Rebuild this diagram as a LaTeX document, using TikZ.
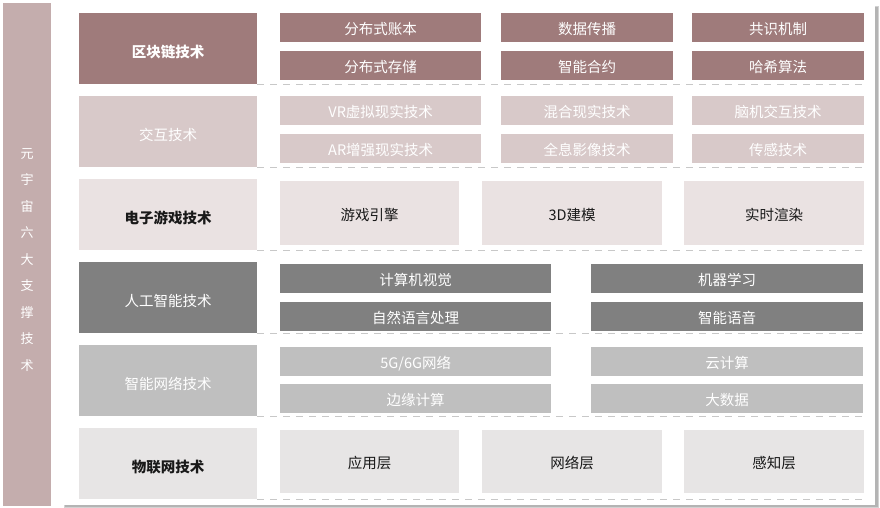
\documentclass[tikz,border=0pt]{standalone}
\usepackage{fontspec}
\setmainfont{Noto Sans CJK SC}
\usepackage{tikz}

\definecolor{sidec}{RGB}{196,173,173}
\definecolor{chainc}{RGB}{159,123,123}
\definecolor{interc}{RGB}{216,201,201}
\definecolor{gamec}{RGB}{234,226,226}
\definecolor{aic}{RGB}{128,128,128}
\definecolor{netc}{RGB}{191,191,191}
\definecolor{iotc}{RGB}{231,229,229}
\definecolor{dashc}{RGB}{200,200,200}
\definecolor{shadec}{RGB}{180,180,180}

\begin{document}
\begin{tikzpicture}[x=1pt,y=1pt,yscale=-1,xscale=1,
  cell/.style={anchor=north west,inner sep=0pt,text=white,text height=14pt,text depth=0pt,font=\fontsize{14.5}{17}\selectfont},
  head/.style={cell,minimum width=178,minimum height=71,text height=17pt},
  wideS/.style={cell,minimum width=201,minimum height=29},
  narS/.style={cell,minimum width=172,minimum height=29},
  bigS/.style={cell,minimum width=180,minimum height=64,text=black!90},
  halfS/.style={cell,minimum width=272,minimum height=29},
  sepline/.style={dashc,line width=1.5,dash pattern=on 7pt off 6pt}]
\useasboundingbox (0,0) rectangle (880,508);

%Shape: card with shadow
\fill[shadec!60] (64,6) rectangle (879,508);
\fill[shadec] (65,7) rectangle (878,507);
\fill[white] (62,0) rectangle (875,505);

%Shape: side bar
\node[cell,fill=sidec,minimum width=48,minimum height=503] (side) at (3,3) {};
% Text Node
\node[align=center,text=white,font=\fontsize{13}{26.5}\selectfont] (sidetext) at (27,260) {元\\宇\\宙\\六\\大\\支\\撑\\技\\术};

%Row: blockchain
\node[head,fill=chainc,font=\fontsize{14.5}{17}\selectfont\bfseries] (hchain) at (79,13) {区块链技术};
\node[wideS,fill=chainc] (chain1) at (280,13) {分布式账本};
\node[narS,fill=chainc] (chain2) at (501,13) {数据传播};
\node[narS,fill=chainc] (chain3) at (692,13) {共识机制};
\node[wideS,fill=chainc] (chain4) at (280,51) {分布式存储};
\node[narS,fill=chainc] (chain5) at (501,51) {智能合约};
\node[narS,fill=chainc] (chain6) at (692,51) {哈希算法};

%Row: interaction
\node[head,fill=interc] (hinter) at (79,96) {交互技术};
\node[wideS,fill=interc] (inter1) at (280,96) {VR虚拟现实技术};
\node[narS,fill=interc] (inter2) at (501,96) {混合现实技术};
\node[narS,fill=interc] (inter3) at (692,96) {脑机交互技术};
\node[wideS,fill=interc] (inter4) at (280,134) {AR增强现实技术};
\node[narS,fill=interc] (inter5) at (501,134) {全息影像技术};
\node[narS,fill=interc] (inter6) at (692,134) {传感技术};

%Row: games
\node[head,fill=gamec,text=black!90,font=\fontsize{14.5}{17}\selectfont\bfseries] (hgame) at (79,179) {电子游戏技术};
\node[bigS,fill=gamec,minimum width=179] (game1) at (280,181) {游戏引擎};
\node[bigS,fill=gamec] (game2) at (482,181) {3D建模};
\node[bigS,fill=gamec] (game3) at (684,181) {实时渲染};

%Row: artificial intelligence
\node[head,fill=aic] (hai) at (79,262) {人工智能技术};
\node[halfS,fill=aic,minimum width=271] (ai1) at (280,264) {计算机视觉};
\node[halfS,fill=aic] (ai2) at (591,264) {机器学习};
\node[halfS,fill=aic,minimum width=271] (ai3) at (280,302) {自然语言处理};
\node[halfS,fill=aic] (ai4) at (591,302) {智能语音};

%Row: networks
\node[head,fill=netc] (hnet) at (79,345) {智能网络技术};
\node[halfS,fill=netc,minimum width=271] (net1) at (280,347) {5G/6G网络};
\node[halfS,fill=netc] (net2) at (591,347) {云计算};
\node[halfS,fill=netc,minimum width=271] (net3) at (280,384) {边缘计算};
\node[halfS,fill=netc] (net4) at (591,384) {大数据};

%Row: internet of things
\node[head,fill=iotc,text=black!90,font=\fontsize{14.5}{17}\selectfont\bfseries] (hiot) at (79,428) {物联网技术};
\node[bigS,fill=iotc,minimum width=179,minimum height=63] (iot1) at (280,430) {应用层};
\node[bigS,fill=iotc,minimum height=63] (iot2) at (482,430) {网络层};
\node[bigS,fill=iotc,minimum height=63] (iot3) at (684,430) {感知层};

%Straight Lines: dashed separators
\draw[sepline] (hchain.south east) -- ++(610,0);
\draw[sepline] (hinter.south east) -- ++(610,0);
\draw[sepline] (hgame.south east) -- ++(610,0);
\draw[sepline] (hai.south east) -- ++(610,0);
\draw[sepline] (hnet.south east) -- ++(610,0);
\draw[sepline] (hiot.south east) -- ++(610,0);

\end{tikzpicture}
\end{document}
